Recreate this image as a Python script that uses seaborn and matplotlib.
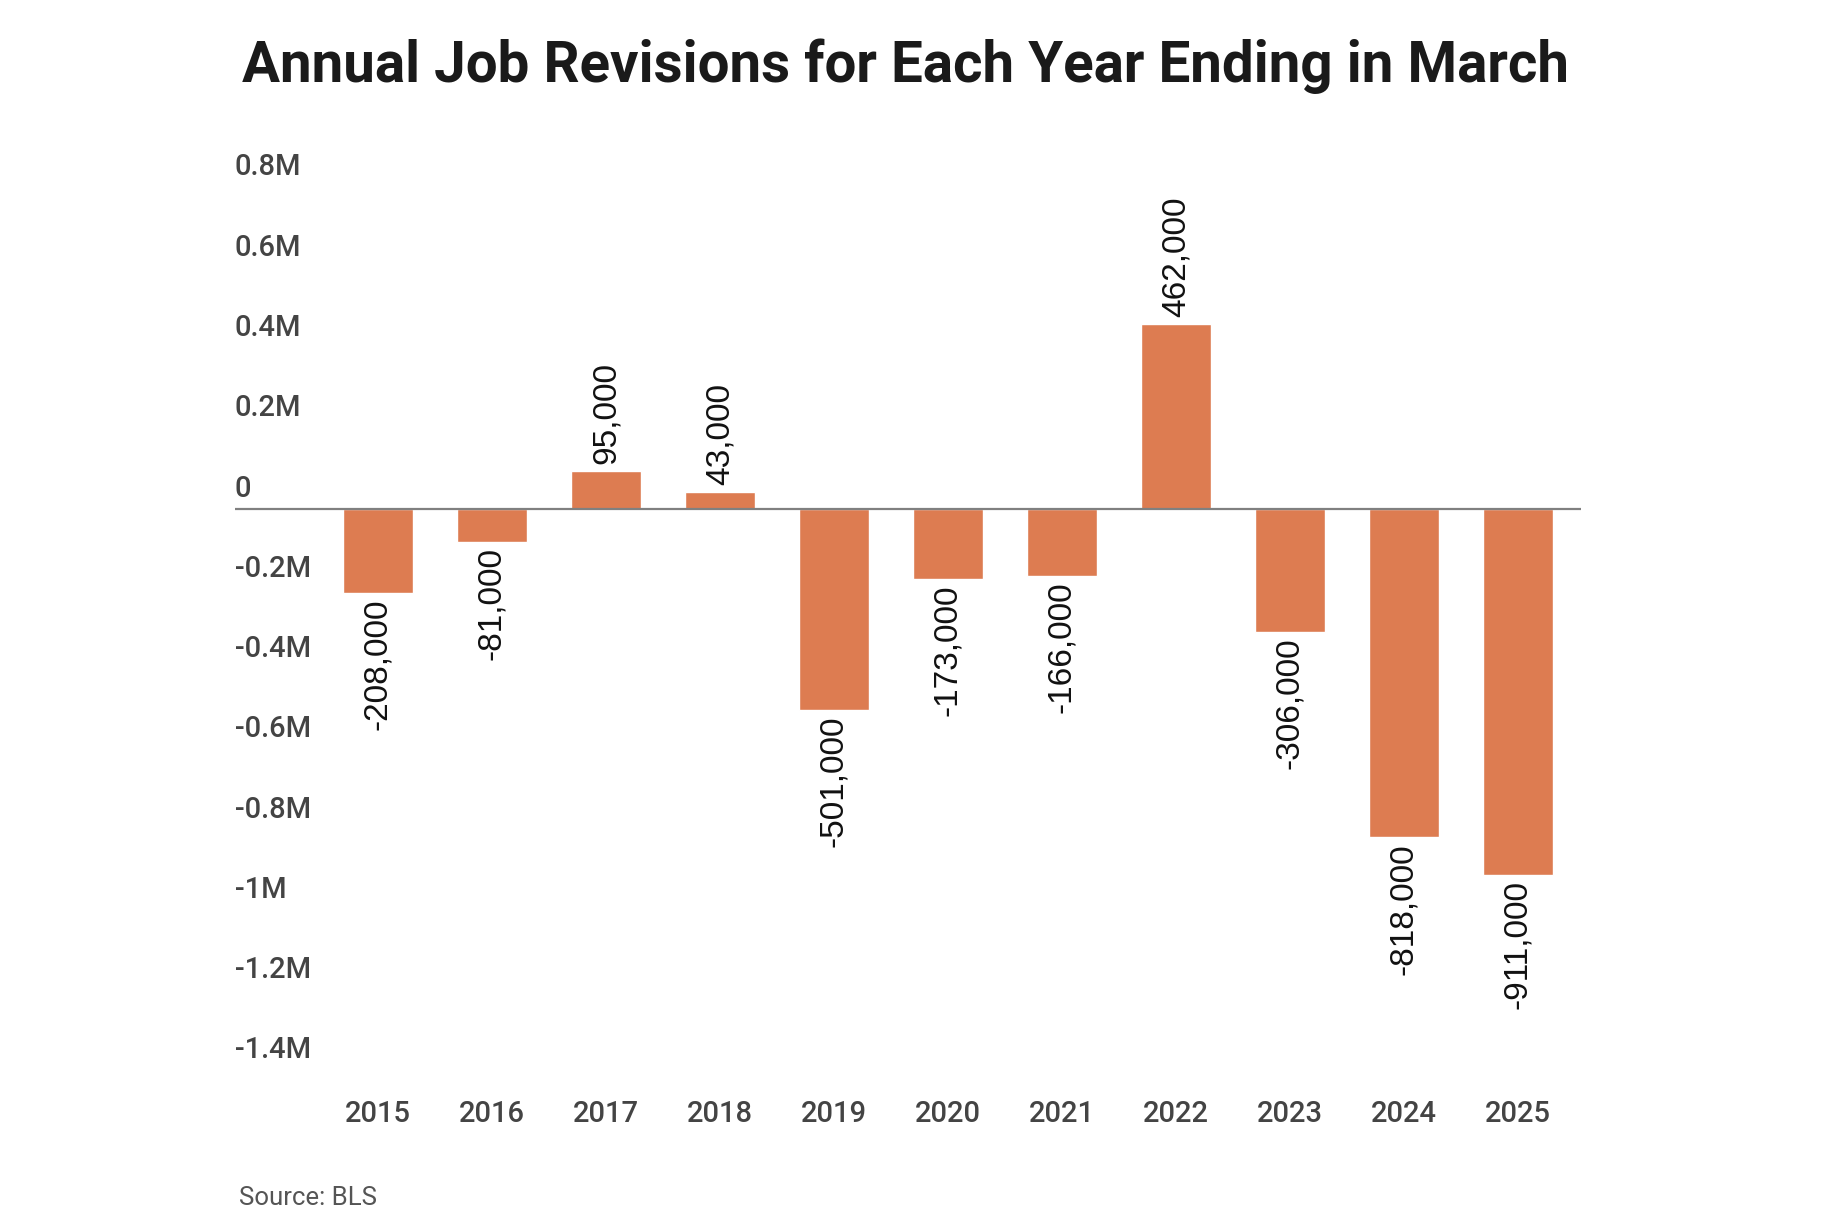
import matplotlib
matplotlib.use("Agg")
import matplotlib.pyplot as plt
import seaborn as sns
import pandas as pd

years = ["2015", "2016", "2017", "2018", "2019", "2020", "2021", "2022", "2023", "2024", "2025"]
revisions = [-208000, -81000, 95000, 43000, -501000, -173000, -166000, 462000, -306000, -818000, -911000]
ytick_values = [800000, 600000, 400000, 200000, 0, -200000, -400000, -600000, -800000, -1000000, -1200000, -1400000]
ytick_labels = ["0.8M", "0.6M", "0.4M", "0.2M", "0", "-0.2M", "-0.4M", "-0.6M", "-0.8M", "-1M", "-1.2M", "-1.4M"]
title = "Annual Job Revisions for Each Year Ending in March"
source = "Source: BLS"

df = pd.DataFrame({"year": years, "revision": revisions})

sns.set_theme(style="white")
plt.rcParams["font.family"] = ["Roboto", "DejaVu Sans"]

W, H = 1838, 1220
fig = plt.figure(figsize=(W / 100, H / 100), dpi=100)
left_px, right_px, top_px, bottom_px = 235, 1581, 188, 1071
ax = fig.add_axes([left_px / W, 1 - bottom_px / H, (right_px - left_px) / W, (bottom_px - top_px) / H])

bar_color = "#DD7C51"
sns.barplot(data=df, x="year", y="revision", color=bar_color, saturation=1, width=0.614, ax=ax)
ax.set_xlim(-1.254, 10.553)
ax.set_ylim(-1400000, 800000)
for s in ax.spines.values():
    s.set_visible(False)
ax.set_xlabel("")
ax.set_ylabel("")
ax.set_yticks([])
ax.axhline(0, color="#808080", lw=1.6, zorder=3)

# x tick labels
ax.tick_params(axis="x", length=0, pad=31)
for lbl in ax.get_xticklabels():
    lbl.set_fontsize(21)
    lbl.set_color("#444444")
    lbl.set_fontweight("medium")
    lbl.set_va("center")

# y labels sitting above their gridline positions
for v, t in zip(ytick_values, ytick_labels):
    ax.annotate(t, xy=(0, v), xycoords=("axes fraction", "data"), xytext=(0, 4.7),
                textcoords="offset points", ha="left", va="bottom", fontsize=21,
                color="#444444", fontweight="medium")

# value labels
for i, v in enumerate(revisions):
    off = 5 if v >= 0 else -4
    ax.annotate(f"{v:,}", xy=(i, v), xytext=(0, off), textcoords="offset points",
                rotation=90, ha="center", va="bottom" if v >= 0 else "top",
                fontsize=24, color="#111111", family=["Liberation Sans", "DejaVu Sans"])

ttl = fig.text(905 / W, 1 - 82 / H, title, ha="center", va="baseline", fontsize=43,
               fontweight="bold", color="#1a1a1a", family=["Roboto", "DejaVu Sans"])
renderer = fig.canvas.get_renderer()
tw = ttl.get_window_extent(renderer).width
ttl.set_fontsize(43 * 1331 / tw)

fig.text(239 / W, 1 - 1198 / H, source, ha="left", va="center", fontsize=18.5, color="#555555")

fig.savefig("out.png", dpi=100, facecolor="white")
